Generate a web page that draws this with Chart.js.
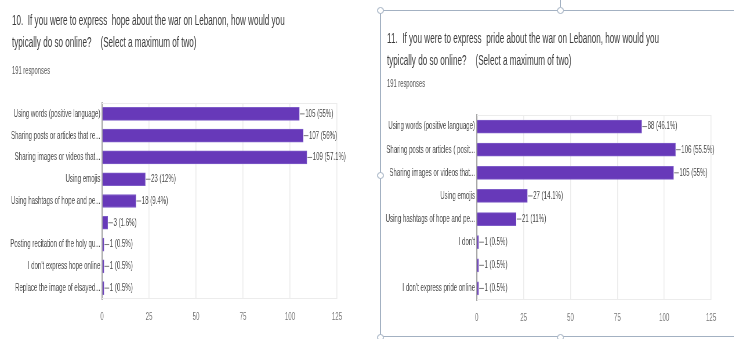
<!DOCTYPE html>
<html>
<head>
<meta charset="utf-8">
<script src="https://cdn.jsdelivr.net/npm/chart.js@4.4.1/dist/chart.umd.min.js"></script>
<style>
  html, body { margin: 0; padding: 0; background: #fff; }
  body { width: 734px; height: 339px; overflow: hidden; position: relative; font-family: "Liberation Sans", Arial, sans-serif; }
  #stage { position: absolute; left: 0; top: 0; height: 339px; transform-origin: 0 0; }
  .t { position: absolute; white-space: pre; color: #3c3c3c; font-size: 14px; line-height: 20px; }
  .r { position: absolute; white-space: pre; color: #555; font-size: 10px; line-height: 14px; }
  .box { position: absolute; }
  #frame { position: absolute; left: 380px; top: 10px; width: 400px; height: 327px; border: 1.5px solid #a3b1c2; box-sizing: border-box; }
  .h { position: absolute; width: 7px; height: 7px; border-radius: 50%; border: 1.3px solid #a3b1c2; background: #fff; box-sizing: border-box; }
</style>
</head>
<body>
<div id="stage">
  <div class="t" id="t10a">10.  If you were to express  hope about the war on Lebanon, how would you</div>
  <div class="t" id="t10b">typically do so online?    (Select a maximum of two)</div>
  <div class="r" id="r10">191 responses</div>
  <div class="t" id="t11a">11.  If you were to express  pride about the war on Lebanon, how would you</div>
  <div class="t" id="t11b">typically do so online?    (Select a maximum of two)</div>
  <div class="r" id="r11">191 responses</div>
  <div class="box" id="boxHope"><canvas id="hope" width="640" height="245"></canvas></div>
  <div class="box" id="boxPride"><canvas id="pride" width="611" height="234"></canvas></div>
</div>
<div id="frame"></div>
<div class="h" style="left:377px;top:7px"></div>
<div class="h" style="left:557px;top:7px"></div>
<div class="h" style="left:377px;top:172px"></div>
<div class="h" style="left:377px;top:334px"></div>
<div class="h" style="left:557px;top:334px"></div>
<div style="position:absolute;left:560px;top:0;width:1px;height:7px;background:#a3b1c2"></div>
<script>
// Q10 - hope
var hopeLabels = ["Using words (positive language)", "Sharing posts or articles that re...", "Sharing images or videos that...", "Using emojis", "Using hashtags of hope and pe...", "", "Posting recitation of the holy qu...", "I don't express hope online", "Replace the image of elsayed..."];
var hopeCounts = [105, 107, 109, 23, 18, 3, 1, 1, 1];
var hopePct = ["55", "56", "57.1", "12", "9.4", "1.6", "0.5", "0.5", "0.5"];

// Q11 - pride
var prideLabels = ["Using words (positive language)", "Sharing posts or articles ( posit...", "Sharing images or videos that...", "Using emojis", "Using hashtags of hope and pe...", "I don't", "", "I don't express pride online"];
var prideCounts = [88, 106, 105, 27, 21, 1, 1, 1];
var pridePct = ["46.1", "55.5", "55", "14.1", "11", "0.5", "0.5", "0.5"];

var xTicks = [0, 25, 50, 75, 100, 125];

// everything is drawn wide and squeezed sideways, like the screenshot
var S = 0.58;
var stage = document.getElementById('stage');
stage.style.width = (734 / S) + 'px';
stage.style.transform = 'scaleX(' + S + ')';

function put(id, x, y) {
  var el = document.getElementById(id);
  el.style.left = (x / S) + 'px';
  el.style.top = y + 'px';
}
put('t10a', 12, 10);
put('t10b', 12, 32);
put('r10', 12, 64);
put('t11a', 387, 28);
put('t11b', 387, 50);
put('r11', 387, 77);
put('boxHope', 0, 91);
put('boxPride', 380, 103);

var purple = '#6739b9';

var valueLabels = {
  id: 'valueLabels',
  afterDatasetsDraw: function(chart) {
    var ctx = chart.ctx;
    var meta = chart.getDatasetMeta(0);
    var pct = chart.options.plugins.valueLabels.pct;
    var data = chart.data.datasets[0].data;
    ctx.save();
    ctx.font = '10.5px "Liberation Sans", Arial, sans-serif';
    ctx.fillStyle = '#4a4a4a';
    ctx.strokeStyle = '#777';
    ctx.lineWidth = 1;
    ctx.textBaseline = 'middle';
    meta.data.forEach(function(bar, i) {
      ctx.beginPath();
      ctx.moveTo(bar.x + 1, bar.y);
      ctx.lineTo(bar.x + 9, bar.y);
      ctx.stroke();
      ctx.fillText(data[i] + ' (' + pct[i] + '%)', bar.x + 10, bar.y);
    });
    ctx.restore();
  }
};

var areaBox = {
  id: 'areaBox',
  beforeDatasetsDraw: function(chart) {
    var a = chart.chartArea;
    var ctx = chart.ctx;
    ctx.save();
    ctx.strokeStyle = '#ececec';
    ctx.lineWidth = 1;
    ctx.beginPath();
    ctx.moveTo(a.left, a.top + 0.5);
    ctx.lineTo(a.right, a.top + 0.5);
    ctx.moveTo(a.left, a.bottom - 0.5);
    ctx.lineTo(a.right, a.bottom - 0.5);
    ctx.stroke();
    ctx.restore();
  }
};

function makeChart(id, labels, counts, pct, yWidth, padRight) {
  new Chart(document.getElementById(id), {
    type: 'bar',
    data: {
      labels: labels,
      datasets: [{
        data: counts,
        backgroundColor: purple,
        borderColor: '#7e5cc8',
        borderWidth: 1,
        barThickness: 13
      }]
    },
    options: {
      indexAxis: 'y',
      responsive: false,
      animation: false,
      layout: { padding: { top: 12, right: padRight, bottom: 0, left: 0 } },
      plugins: {
        legend: { display: false },
        tooltip: { enabled: false },
        valueLabels: { pct: pct }
      },
      scales: {
        x: {
          min: 0,
          max: 125,
          afterBuildTicks: function(scale) {
            scale.ticks = xTicks.map(function(v) { return { value: v }; });
          },
          afterFit: function(scale) { scale.height = 37; },
          grid: { color: '#ececec', lineWidth: 1.6, drawTicks: false },
          border: { display: false },
          ticks: { color: '#777', padding: 12, font: { size: 10.5, family: '"Liberation Sans", Arial, sans-serif' } }
        },
        y: {
          afterFit: function(scale) { scale.width = yWidth; },
          grid: { display: false, drawTicks: false },
          border: { color: '#a8a8a8', width: 2.2 },
          ticks: { color: '#4a4a4a', padding: 3, font: { size: 10.5, family: '"Liberation Sans", Arial, sans-serif' } }
        }
      }
    },
    plugins: [areaBox, valueLabels]
  });
}

makeChart('hope', hopeLabels, hopeCounts, hopePct, 176, 59);
makeChart('pride', prideLabels, prideCounts, pridePct, 167, 40);
</script>
</body>
</html>
